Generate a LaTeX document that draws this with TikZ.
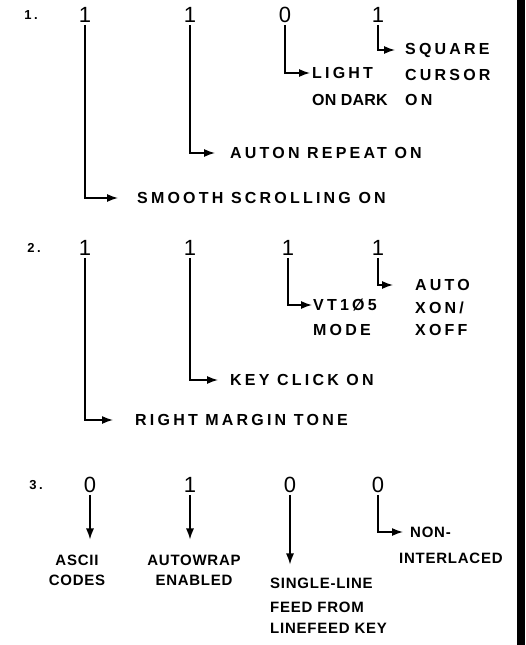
\documentclass[tikz,border=0pt]{standalone}
\usepackage{fontspec}
\setmainfont{Liberation Sans}[LetterSpace=20]
\usetikzlibrary{arrows.meta}
\tikzset{
  bit/.style={font=\fontsize{22}{22}\selectfont, inner sep=2pt},
  num/.style={font=\bfseries\fontsize{13}{13}\selectfont, inner sep=0pt},
  txt/.style={font=\bfseries\fontsize{16}{16}\selectfont, anchor=west, inner sep=0pt},
  tight/.style={txt, font=\bfseries\fontsize{16}{16}\selectfont\addfontfeature{LetterSpace=1}},
  low/.style={font=\bfseries\fontsize{15}{15}\selectfont\addfontfeature{LetterSpace=5}, inner sep=0pt},
  wire/.style={line width=1.4pt, -{Latex[length=11pt,width=8pt]}},
}

\begin{document}
\begin{tikzpicture}[x=1pt,y=-1pt]
\useasboundingbox (0,0) rectangle (525,645);
\fill (517,0) rectangle (525,645);
%
% setup 1
\node[num] (n1) at (31,15) {1.};
\node[bit] (b11) at (85,15) {1};
\node[bit] (b12) at (190,15) {1};
\node[bit] (b13) at (285,15) {0};
\node[bit] (b14) at (378,15) {1};
\node[txt] (t14a) at (405,50) {SQUARE};
\node[txt] (t14b) at (405,75) {CURSOR};
\node[txt] (t14c) at (405,100) {ON};
\node[txt] (t13a) at (312,73) {LIGHT};
\node[tight] (t13b) at (312,100) {ON DARK};
\node[txt] (t12) at (230,153) {AUTON REPEAT ON};
\node[txt] (t11) at (137,198) {SMOOTH SCROLLING ON};
\draw[wire, shorten >=10pt] (b14.south) |- (t14a.west);
\draw[wire, shorten >=2pt] (b13.south) |- (t13a.west);
\draw[wire, shorten >=15pt] (b12.south) |- (t12.west);
\draw[wire, shorten >=19pt] (b11.south) |- (t11.west);
%
% setup 2
\node[num] (n2) at (34,248) {2.};
\node[bit] (b21) at (85,248) {1};
\node[bit] (b22) at (190,248) {1};
\node[bit] (b23) at (288,248) {1};
\node[bit] (b24) at (378,248) {1};
\node[txt] (t24a) at (415,285) {AUTO};
\node[txt] (t24b) at (415,308) {XON/};
\node[txt] (t24c) at (415,330) {XOFF};
\node[txt] (t23a) at (313,305) {VT1Ø5};
\node[txt] (t23b) at (313,330) {MODE};
\node[txt] (t22) at (230,380) {KEY CLICK ON};
\node[txt] (t21) at (135,420) {RIGHT MARGIN TONE};
\draw[wire, shorten >=22pt] (b24.south) |- (t24a.west);
\draw[wire, shorten >=1pt] (b23.south) |- (t23a.west);
\draw[wire, shorten >=12pt] (b22.south) |- (t22.west);
\draw[wire, shorten >=22pt] (b21.south) |- (t21.west);
%
% setup 3
\node[num] (n3) at (36,485) {3.};
\node[bit] (b31) at (90,485) {0};
\node[bit] (b32) at (190,485) {1};
\node[bit] (b33) at (290,485) {0};
\node[bit] (b34) at (378,485) {0};
\node[low] (t31a) at (77,560) {ASCII};
\node[low] (t31b) at (77,580) {CODES};
\node[low] (t32a) at (194,560) {AUTOWRAP};
\node[low] (t32b) at (194,580) {ENABLED};
\node[low, anchor=west] (t33a) at (270,583) {SINGLE-LINE};
\node[low, anchor=west] (t33b) at (270,607) {FEED FROM};
\node[low, anchor=west] (t33c) at (270,628) {LINEFEED KEY};
\node[low, anchor=west] (t34a) at (410,532) {NON-};
\node[low, anchor=west] (t34b) at (399,558) {INTERLACED};
\draw[wire, shorten >=15pt] (b31.south) -- (b31.south |- t31a.north);
\draw[wire, shorten >=15pt] (b32.south) -- (b32.south |- t32a.north);
\draw[wire, shorten >=13pt] (b33.south) -- (b33.south |- t33a.north);
\draw[wire, shorten >=7pt] (b34.south) |- (t34a.west);
\end{tikzpicture}
\end{document}
